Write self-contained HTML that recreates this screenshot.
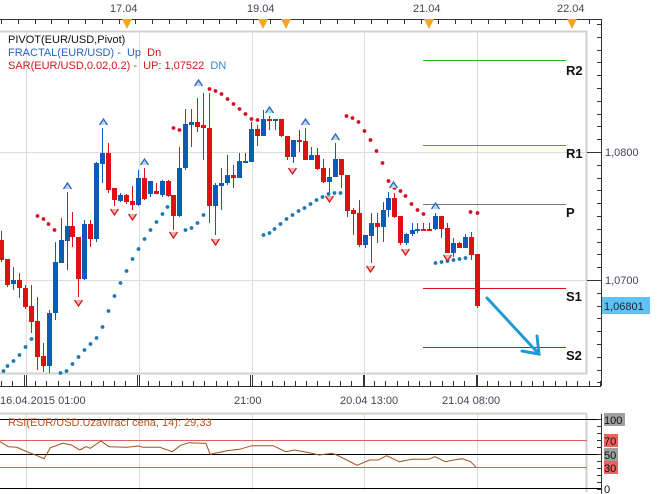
<!DOCTYPE html><html><head><meta charset="utf-8"><style>
html,body{margin:0;padding:0;background:#fff;width:659px;height:494px;overflow:hidden}
svg{display:block;font-family:"Liberation Sans",sans-serif}
</style></head><body>
<svg id="s" width="659" height="494" xmlns="http://www.w3.org/2000/svg">
<rect width="659" height="494" fill="#fff"/>
<!-- grid -->
<g stroke="#dcdcdc" stroke-width="1">
<line x1="26.5" y1="31" x2="26.5" y2="373"/><line x1="139.5" y1="31" x2="139.5" y2="373"/>
<line x1="252.5" y1="31" x2="252.5" y2="373"/><line x1="364.5" y1="31" x2="364.5" y2="373"/>
<line x1="477.5" y1="31" x2="477.5" y2="373"/>
<line x1="0" y1="152.5" x2="587" y2="152.5"/><line x1="0" y1="280.5" x2="587" y2="280.5"/>
<line x1="26.5" y1="414" x2="26.5" y2="490"/><line x1="139.5" y1="414" x2="139.5" y2="490"/>
<line x1="252.5" y1="414" x2="252.5" y2="490"/><line x1="364.5" y1="414" x2="364.5" y2="490"/>
<line x1="477.5" y1="414" x2="477.5" y2="490"/>
</g>
<!-- panel borders -->
<polyline points="0,31.5 586.5,31.5 586.5,373.5 0,373.5" fill="none" stroke="#d0d0d0" stroke-width="2"/>
<polyline points="0,413.5 586.5,413.5 586.5,492" fill="none" stroke="#d0d0d0" stroke-width="2"/>
<!-- top axis -->
<line x1="0" y1="19.5" x2="601" y2="19.5" stroke="#333"/>
<g id="topticks" stroke="#333"></g>
<g font-size="11" fill="#445">
<text x="110" y="12">17.04</text><text x="247" y="12">19.04</text><text x="413" y="12">21.04</text><text x="557" y="12">22.04</text>
</g>
<g fill="#f5a623">
<polygon points="122,19 132,19 127,29"/><polygon points="258,19 268,19 263,29"/><polygon points="281,19 291,19 286,29"/>
<polygon points="424,19 434,19 429,29"/><polygon points="567,19 577,19 572,29"/>
</g>
<!-- right axis -->
<line x1="601.5" y1="19" x2="601.5" y2="386" stroke="#333"/>
<g id="rticks" stroke="#333"></g>
<g font-size="11" fill="#445"><text x="605" y="156">1,0800</text><text x="605" y="284">1,0700</text></g>
<rect x="602" y="297" width="48" height="17" fill="#5fc3f2"/>
<text x="604" y="310" font-size="11" fill="#223">1,06801</text>
<!-- bottom axis -->
<line x1="0" y1="386.5" x2="601" y2="386.5" stroke="#333"/>
<g id="bticks" stroke="#333"></g>
<g font-size="11" fill="#445">
<text x="0" y="404">16.04.2015 01:00</text><text x="234" y="404">21:00</text><text x="340" y="404">20.04 13:00</text><text x="442" y="404">21.04 08:00</text>
</g>
<!-- pivots -->
<g stroke-width="1">
<line x1="423" y1="60.5" x2="566" y2="60.5" stroke="#22bb22"/>
<line x1="423" y1="145.5" x2="566" y2="145.5" stroke="#22bb22"/>
<line x1="423" y1="204.5" x2="566" y2="204.5" stroke="#777"/>
<line x1="423" y1="288.5" x2="566" y2="288.5" stroke="#dd1111"/>
<line x1="423" y1="347.5" x2="566" y2="347.5" stroke="#dd1111"/>
</g>
<g font-size="13" font-weight="bold" fill="#111">
<text x="566" y="75">R2</text><text x="566" y="158">R1</text><text x="566" y="217">P</text><text x="566" y="301">S1</text><text x="566" y="360">S2</text>
</g>
<g id="plot"></g>
<!-- arrow -->
<g stroke="#1e9bd7" stroke-width="3" fill="none" stroke-linecap="round">
<line x1="487" y1="298" x2="538" y2="353"/><polyline points="522,351 539,354 537,336"/>
</g>
<!-- legend -->
<g font-size="11">
<text x="8" y="43" fill="#111">PIVOT(EUR/USD,Pivot)</text>
<text x="8" y="56" fill="#2a62b8">FRACTAL(EUR/USD) -&#160; Up&#160; <tspan fill="#d01818">Dn</tspan></text>
<text x="8" y="69" fill="#d01818">SAR(EUR/USD,0.02,0.2) -&#160; UP: 1,07522&#160; <tspan fill="#2a8ad0">DN</tspan></text>
</g>
<!-- RSI -->
<g stroke-width="1">
<line x1="0" y1="419.5" x2="601" y2="419.5" stroke="#000"/>
<line x1="0" y1="440.5" x2="587" y2="440.5" stroke="#e06060"/>
<line x1="0" y1="454.5" x2="601" y2="454.5" stroke="#000"/>
<line x1="0" y1="467.5" x2="587" y2="467.5" stroke="#e06060"/>
<line x1="0" y1="488.5" x2="601" y2="488.5" stroke="#000"/>
</g>
<line x1="601.5" y1="414" x2="601.5" y2="494" stroke="#333"/>
<g id="rsiticks" stroke="#333"></g>
<rect x="604" y="413" width="21" height="13" fill="#a0a0a0"/><rect x="604" y="434" width="14" height="13" fill="#f06060"/>
<rect x="604" y="448" width="14" height="13" fill="#a0a0a0"/><rect x="604" y="461" width="14" height="13" fill="#f06060"/>
<g font-size="11" fill="#111"><text x="604" y="424">100</text><text x="604" y="445">70</text><text x="604" y="459">50</text><text x="604" y="472">30</text><text x="604" y="493">0</text></g>
<text x="8" y="426" font-size="11" fill="#c0501c">RSI(EUR/USD.Uzavírací cena, 14): 29,33</text>
<polyline id="rsi" fill="none" stroke="#a0501c" stroke-width="1"/>
</svg>
<script>
var NS="http://www.w3.org/2000/svg";
function el(p,t,a){var e=document.createElementNS(NS,t);for(var k in a)e.setAttribute(k,a[k]);p.appendChild(e);return e;}
var P=document.getElementById("plot");
// candles: x, open, close, high, low (pixel y)
var C=[[1,240,260,231,262],[7,259,285,259,287],[13,284,280,267,290],[19,280,288,273,298],[25,288,307,285,309],[31,306,322,285,333],[37,321,357,297,370],[43,356,366,343,372],[49,366,313,310,373],[55,313,262,242,320],[61,263,240,218,263],[67,241,226,192,270],[72,226,237,212,247],[78,237,279,237,297],[84,279,224,220,280],[90,224,239,220,247],[96,239,163,162,242],[102,164,153,128,183],[108,153,190,143,193],[114,188,200,188,206],[120,201,195,193,202],[126,195,202,194,204],[132,201,205,186,210],[138,205,178,170,206],[144,178,199,168,200],[150,194,181,186,197],[156,191,194,183,194],[162,195,181,180,197],[168,181,196,180,197],[173,195,216,195,230],[179,216,168,147,217],[185,168,124,109,170],[191,125,122,109,147],[197,122,127,98,132],[203,125,128,93,160],[209,128,206,93,223],[215,206,185,183,235],[221,186,183,168,210],[227,183,175,155,185],[233,175,178,165,188],[239,178,161,153,178],[245,162,161,153,163],[251,162,129,122,162],[257,129,136,125,146],[263,136,119,110,136],[269,119,121,116,130],[275,121,119,119,130],[281,119,136,119,137],[287,136,157,136,160],[293,157,140,140,163],[299,140,142,130,152],[305,141,160,128,160],[311,160,155,147,160],[317,155,169,148,170],[323,168,182,159,183],[329,182,177,168,193],[335,177,159,143,177],[341,159,175,159,188],[347,175,211,175,217],[353,210,214,208,235],[359,213,245,200,247],[365,245,235,235,248],[371,236,223,213,263],[377,223,227,213,243],[383,227,210,202,242],[388,210,198,192,217],[394,198,217,193,218],[400,216,243,216,245],[406,243,234,233,245],[412,234,230,223,236],[417,230,229,223,233],[423,229,230,223,230],[429,229,230,223,230],[435,229,216,213,230],[441,216,229,216,238],[447,228,253,223,253],[453,253,243,238,257],[459,243,248,242,248],[465,248,237,234,248],[471,237,255,232,260],[477,254,306,254,308]];
C.forEach(function(c){var red=c[2]>c[1];var col=red?"#dd1111":"#0a5cb8";
el(P,"line",{x1:c[0]+.5,x2:c[0]+.5,y1:c[3],y2:c[4],stroke:col});
var t=Math.min(c[1],c[2]),b=Math.max(c[1],c[2]);el(P,"rect",{x:c[0]-2,y:t,width:5,height:Math.max(2,b-t),fill:col});});
var RD=[[37,216],[43,219],[48,224],[54,230],[173,128],[179,130],[209,89],[215,91],[221,94],[227,99],[233,104],[239,109],[245,114],[251,119],[257,120],[346,116],[352,118],[358,122],[364,131],[370,140],[376,151],[382,163],[388,181],[394,188],[400,191],[405,196],[411,204],[417,210],[423,214],[470,212],[477,213]];
var BD=[[3,371],[7,366],[13,361],[19,355],[25,347],[31,339],[60,373],[66,371],[72,364],[78,357],[84,350],[90,344],[96,338],[102,327],[108,311],[114,296],[120,283],[126,271],[132,259],[138,249],[144,239],[150,230],[156,222],[162,214],[167,207],[185,230],[191,228],[197,223],[203,215],[263,235],[269,233],[274,229],[280,224],[286,219],[292,215],[298,211],[304,208],[310,204],[316,200],[322,197],[328,194],[334,193],[340,193],[435,263],[441,262],[447,261],[453,260],[459,259],[465,258]];
RD.forEach(function(d){el(P,"circle",{cx:d[0]+.5,cy:d[1],r:1.9,fill:"#d61020"});});
BD.forEach(function(d){el(P,"circle",{cx:d[0]+.5,cy:d[1],r:1.9,fill:"#1a7ab0"});});
var UP=[[67,186],[103,122],[144,162],[198,83],[269,110],[305,122],[335,137],[393,185],[435,206]];
var DN=[[78,303],[114,212],[132,217],[173,235],[215,242],[292,171],[329,199],[370,269],[405,252],[447,258]];
UP.forEach(function(u){el(P,"polyline",{points:(u[0]-3.5)+","+(u[1]+3)+" "+(u[0]+.5)+","+(u[1]-3)+" "+(u[0]+4.5)+","+(u[1]+3),fill:"#bcd4f0",stroke:"#2a62b8","stroke-width":1.3});});
DN.forEach(function(u){el(P,"polyline",{points:(u[0]-3.5)+","+(u[1]-3)+" "+(u[0]+.5)+","+(u[1]+3)+" "+(u[0]+4.5)+","+(u[1]-3),fill:"#f4b0b0",stroke:"#d01818","stroke-width":1.3});});
// ticks
var tt=document.getElementById("topticks");for(var x=1;x<600;x+=16.8)el(tt,"line",{x1:Math.round(x)+.5,x2:Math.round(x)+.5,y1:19,y2:24});
var rt=document.getElementById("rticks");for(var y=24;y<386;y+=12.8){el(rt,"line",{x1:597,x2:601,y1:Math.round(y)+.5,y2:Math.round(y)+.5});}
el(rt,"line",{x1:587,x2:601,y1:152.5,y2:152.5});el(rt,"line",{x1:587,x2:601,y1:280.5,y2:280.5});
var bt=document.getElementById("bticks");for(var x=1;x<600;x+=11.3){var mj=[26,139,252,364,477].some(function(m){return Math.abs(m-x)<4});el(bt,"line",{x1:Math.round(x)+.5,x2:Math.round(x)+.5,y1:mj?375:381,y2:386});}
[26,139,252,364,477].forEach(function(m){el(bt,"line",{x1:m+.5,x2:m+.5,y1:375,y2:386});});
var st=document.getElementById("rsiticks");for(var y=419;y<490;y+=7)el(st,"line",{x1:597,x2:601,y1:y+.5,y2:y+.5});
var R=[[0,245],[20,260],[40,262],[60,273],[80,283],[100,293],[105,296],[120,263],[150,250],[170,255],[190,270],[205,260],[215,265],[240,243],[260,260],[300,262],[330,258],[340,262],[380,262],[410,275],[430,256],[450,248],[480,250],[490,250],[500,283],[540,272],[570,268],[600,257],[650,257],[680,275],[700,270],[730,277],[760,285],[790,280],[800,284],[830,303],[850,316],[880,300],[900,300],[920,287],[950,305],[980,298],[1020,298],[1035,290],[1060,305],[1080,300],[1100,296],[1120,305],[1133,322]];
document.getElementById("rsi").setAttribute("points",R.map(function(p){return (p[0]/2.38).toFixed(1)+","+(360+p[1]/3).toFixed(1)}).join(" "));
</script>
</body></html>
